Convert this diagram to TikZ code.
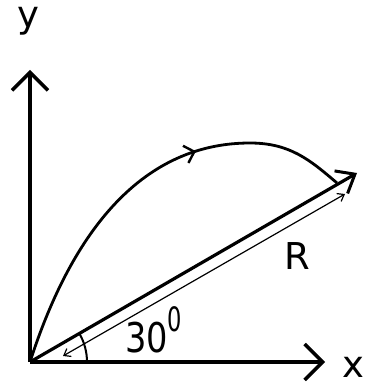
\documentclass[tikz,border=0pt]{standalone}
\usepackage{fontspec}
\usepackage{graphicx}
\setmainfont{DejaVu Sans}
\usetikzlibrary{arrows.meta,decorations.markings,calc}
\begin{document}
\begin{tikzpicture}[x=1pt,y=1pt,
  axis/.style={line width=3.6pt,-{Straight Barb[length=18pt,width=36pt,line width=3.4pt]}},
  rline/.style={line width=3.2pt,-{Straight Barb[length=16pt,width=26pt,line width=3pt]}},
  thin/.style={line width=1.2pt,{Straight Barb[length=6pt,width=9pt]}-{Straight Barb[length=6pt,width=9pt]}},
  traj/.style={line width=2.8pt,postaction={decorate},decoration={markings,
    mark=at position 0.645 with {\arrow{Straight Barb[length=9pt,width=18pt,line width=2.4pt]}}}},
  lbl/.style={inner sep=0pt,font=\fontsize{37}{40}\selectfont}]
\useasboundingbox (0,0) rectangle (366,388);
\coordinate (O) at (30,26);
\coordinate (Ytop) at (30,318);
\coordinate (Xend) at (325,26);
\coordinate (Rend) at (357,215);
\coordinate (Apex) at (250,245);
\coordinate (Cend) at (337,205);
\coordinate (Ta) at (63,32);
\coordinate (Tb) at (345,194);
\draw[axis] (O) -- (Ytop);
\draw[axis] (O) -- (Xend);
\draw[rline] (O) -- (Rend);
\draw[traj] (O) .. controls (76,169) and (150,245) .. (Apex)
  .. controls (290,245) and (310,228) .. (Cend);
\draw[thin] (Ta) -- (Tb);
\draw[line width=2pt] ($(O)+(57,0)$) arc[start angle=0,end angle=30,radius=57];
\node[lbl,anchor=base] (ylab) at (28,360) {y};
\node[lbl] (xlab) at (353,21) {x};
\node[lbl,anchor=base west] (rlab) at (284,118) {R};
\node[lbl,anchor=base west,font=\fontsize{41}{44}\selectfont] (ang) at (125,35)
  {\scalebox{0.82}[1]{30}\raisebox{21pt}{\scalebox{0.55}[0.82]{0}}};
\end{tikzpicture}
\end{document}
